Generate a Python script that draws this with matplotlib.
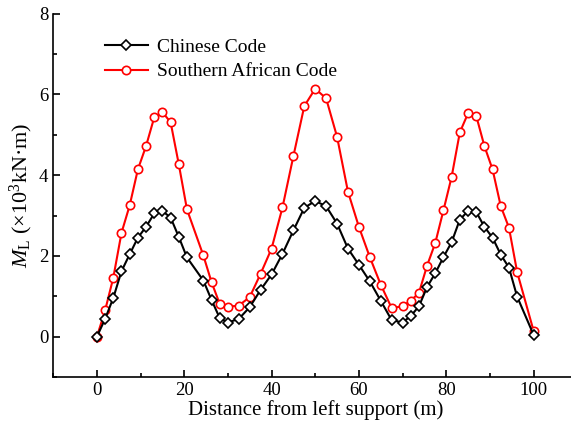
import matplotlib
matplotlib.use("Agg")
import matplotlib.pyplot as plt
from matplotlib.ticker import MultipleLocator

plt.rcParams['font.family'] = ['Liberation Serif', 'DejaVu Serif']
plt.rcParams['mathtext.fontset'] = 'custom'
plt.rcParams['mathtext.rm'] = 'Liberation Serif'
plt.rcParams['mathtext.it'] = 'Liberation Serif:italic'

# Chinese Code
x_cn = [0, 1.875, 3.75, 5.625, 7.5, 9.375, 11.25, 13.125, 15, 16.875, 18.75, 20.625,
        24.375, 26.25, 28.125, 30,
        32.5, 35, 37.5, 40, 42.5, 45, 47.5, 50, 52.5, 55, 57.5, 60, 62.5, 65, 67.5, 70,
        71.875, 73.75, 75.625, 77.5, 79.375, 81.25, 83.125, 85, 86.875, 88.75, 90.625,
        92.5, 94.375, 96.25, 100]
m_cn = [0, 0.44, 0.96, 1.62, 2.04, 2.45, 2.72, 3.05, 3.11, 2.95, 2.47, 1.96,
        1.39, 0.91, 0.46, 0.35,
        0.44, 0.73, 1.16, 1.54, 2.05, 2.63, 3.19, 3.36, 3.23, 2.80, 2.18, 1.78, 1.37, 0.89, 0.41, 0.35,
        0.51, 0.75, 1.23, 1.57, 1.97, 2.34, 2.90, 3.11, 3.09, 2.72, 2.45,
        2.03, 1.71, 0.99, 0.05]

# Southern African Code
x_sa = x_cn
m_sa = [0, 0.65, 1.46, 2.57, 3.25, 4.14, 4.72, 5.43, 5.56, 5.31, 4.27, 3.15,
        2.01, 1.35, 0.81, 0.74,
        0.77, 0.98, 1.56, 2.18, 3.20, 4.47, 5.71, 6.14, 5.90, 4.95, 3.59, 2.72, 1.97, 1.29, 0.71, 0.75,
        0.89, 1.08, 1.76, 2.32, 3.13, 3.96, 5.06, 5.53, 5.47, 4.72, 4.14,
        3.23, 2.70, 1.60, 0.15]

fig = plt.figure(figsize=(5.71, 4.26), dpi=100)
ax = fig.add_axes([0.0933, 0.115, 0.9175, 0.853])

ax.plot(x_cn, m_cn, color='black', lw=1.5, marker='D', markersize=5.5,
        markerfacecolor='white', markeredgecolor='black', markeredgewidth=1.2,
        label='Chinese Code', zorder=3)
ax.plot(x_sa, m_sa, color='red', lw=1.5, marker='o', markersize=6,
        markerfacecolor='white', markeredgecolor='red', markeredgewidth=1.2,
        label='Southern African Code', zorder=2)

ax.set_xlim(-10, 110)
ax.set_ylim(-1, 8)
ax.xaxis.set_major_locator(MultipleLocator(20))
ax.xaxis.set_minor_locator(MultipleLocator(10))
ax.yaxis.set_major_locator(MultipleLocator(2))
ax.yaxis.set_minor_locator(MultipleLocator(1))
ax.tick_params(which='both', direction='in', labelsize=13.5, width=1.2)
ax.tick_params(which='major', length=5)
ax.tick_params(which='minor', length=3)
ax.spines['top'].set_visible(False)
ax.spines['right'].set_visible(False)
ax.spines['left'].set_linewidth(1.2)
ax.spines['bottom'].set_linewidth(1.2)

ax.set_xlabel('Distance from left support (m)', fontsize=15, labelpad=1)
ax.set_ylabel(r'$M_\mathrm{L}$ (×10$^3$kN·m)', fontsize=16, labelpad=3)

ax.legend(loc='upper left', bbox_to_anchor=(0.065, 0.98), frameon=False,
          fontsize=14, handlelength=2.2, handletextpad=0.5, labelspacing=0.35)

fig.savefig('out.png', dpi=100)
